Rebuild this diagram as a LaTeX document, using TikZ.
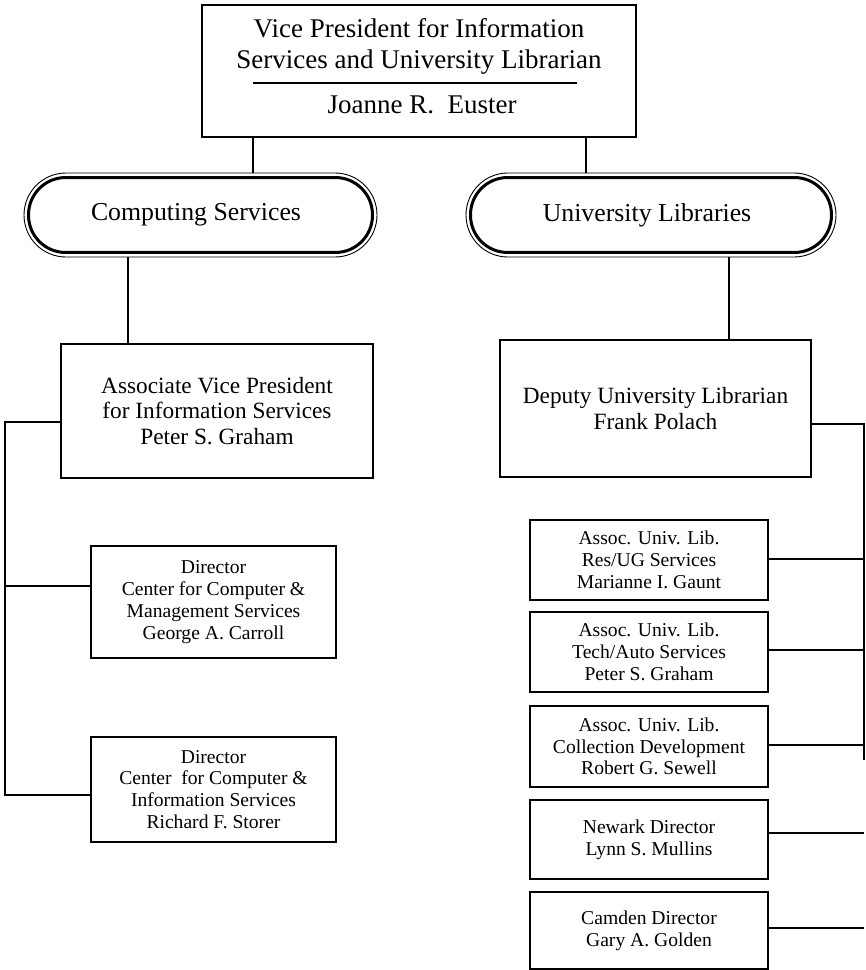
\documentclass[tikz,border=0pt]{standalone}
\usepackage{fontspec}
\setmainfont{Liberation Serif}
\usetikzlibrary{calc}
\newcommand\ftop{\fontsize{27}{31}\selectfont}
\newcommand\foval{\fontsize{25.8}{30}\selectfont}
\newcommand\fmid{\fontsize{23.3}{25.5}\selectfont}
\newcommand\fsml{\fontsize{19.6}{21.8}\selectfont}
\begin{document}
\begin{tikzpicture}[x=1pt,y=-1pt,
  box/.style={draw, line width=1.5pt, rectangle, inner sep=0pt, align=center},
  ovalbox/.style={draw, line width=0.9pt, rectangle, rounded corners=42pt, inner sep=0pt},
  ovalin/.style={line width=3pt, rounded corners=37pt},
  conn/.style={line width=1.3pt}]
\useasboundingbox (0,0) rectangle (866,970);
\fill[white] (0,0) rectangle (866,970);

% top box
\node[box, minimum width=434pt, minimum height=132pt] (top) at (419,71) {};
\node[align=center, font=\ftop] (toptitle) at (419,46) {Vice President for Information\\Services and University Librarian};
\node[anchor=base, font=\ftop] (topname) at (422,113) {Joanne R.\ \ Euster};
\draw[conn] (253,83) -- (577,83);

% ovals
\node[ovalbox, minimum width=353pt, minimum height=84pt] (comp) at (200.5,215) {};
\node[font=\foval] (comptext) at (196,215) {Computing Services};
\draw[ovalin] ($(comp.north west)+(5,5)$) rectangle ($(comp.south east)+(-5,-5)$);
\node[ovalbox, minimum width=370pt, minimum height=84pt] (lib) at (651,215) {};
\node[font=\foval] (libtext) at (647,215) {University Libraries};
\draw[ovalin] ($(lib.north west)+(5,5)$) rectangle ($(lib.south east)+(-5,-5)$);

% second level
\node[box, minimum width=312pt, minimum height=134pt, font=\fmid] (avp) at (217,411) {Associate Vice President\\for Information Services\\Peter S. Graham};
\node[box, minimum width=311pt, minimum height=137pt, font=\fmid] (dep) at (655.5,408.5) {Deputy University Librarian\\Frank Polach};

% directors
\node[box, minimum width=245pt, minimum height=112pt, font=\fsml] (dir1) at (213.5,602) {Director\\Center for Computer \&\\Management Services\\George A. Carroll};
\node[box, minimum width=245pt, minimum height=105pt, font=\fsml] (dir2) at (213.5,789.5) {Director\\Center\ \ for Computer \&\\Information Services\\Richard F. Storer};

% library boxes
\node[box, minimum width=238pt, minimum height=80pt, font=\fsml] (b1) at (649,560) {Assoc. Univ. Lib.\\Res/UG Services\\Marianne I. Gaunt};
\node[box, minimum width=238pt, minimum height=80pt, font=\fsml] (b2) at (649,652) {Assoc. Univ. Lib.\\Tech/Auto Services\\Peter S. Graham};
\node[box, minimum width=238pt, minimum height=81pt, font=\fsml] (b3) at (649,746.5) {Assoc. Univ. Lib.\\Collection Development\\Robert G. Sewell};
\node[box, minimum width=238pt, minimum height=79pt, font=\fsml] (b4) at (649,839.5) {Newark Director\\Lynn S. Mullins};
\node[box, minimum width=238pt, minimum height=77pt, font=\fsml] (b5) at (649,930.5) {Camden Director\\Gary A. Golden};

% connectors
\draw[conn] (top.south -| 253,0) -- (comp.north -| 253,0);
\draw[conn] (top.south -| 586,0) -- (lib.north -| 586,0);
\draw[conn] (comp.south -| 128,0) -- (avp.north -| 128,0);
\draw[conn] (lib.south -| 729,0) -- (dep.north -| 729,0);

\coordinate (ltop) at (5,422);
\coordinate (lmid) at (5,586);
\coordinate (lbot) at (5,795);
\draw[conn] (avp.west |- ltop) -- (ltop) -- (lbot) -- (dir2.west |- lbot);
\draw[conn] (lmid) -- (dir1.west |- lmid);

\coordinate (rtop) at (864,424);
\coordinate (rbot) at (864,760);
\draw[conn] (dep.east |- rtop) -- (rtop) -- (rbot);
\draw[conn] (b1.east |- 0,559) -- (rtop |- 0,559);
\draw[conn] (b2.east |- 0,650) -- (rtop |- 0,650);
\draw[conn] (b3.east |- 0,745) -- (rtop |- 0,745);
\draw[conn] (b4.east |- 0,833) -- (rtop |- 0,833);
\draw[conn] (b5.east |- 0,928) -- (rtop |- 0,928);
\end{tikzpicture}
\end{document}
